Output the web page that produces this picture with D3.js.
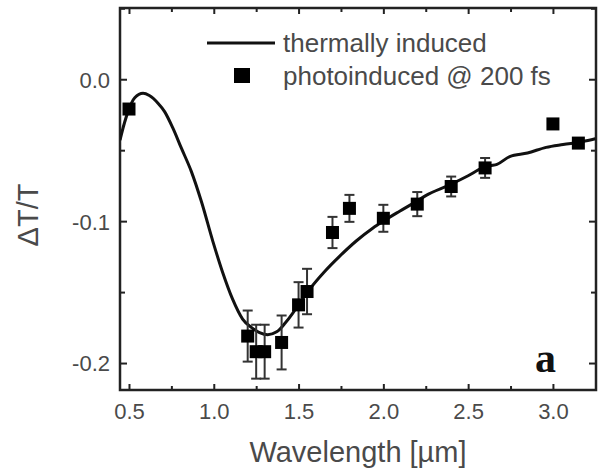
<!DOCTYPE html>
<html>
<head>
<meta charset="utf-8">
<script src="https://cdn.jsdelivr.net/npm/d3@7"></script>
<style>
  html, body { margin: 0; padding: 0; background: #fff; }
  svg { display: block; font-family: "Liberation Sans", Arial, sans-serif; }
</style>
</head>
<body>
<svg id="chart" width="606" height="476"></svg>
<script>
// Thermally induced transmission change (continuous curve)
const thermalWavelength = [0.447, 0.455, 0.494, 0.534, 0.583, 0.62, 0.671, 0.71, 0.759, 0.809, 0.868, 0.927, 0.995,
  1.052, 1.111, 1.17, 1.223, 1.27, 1.318, 1.371, 1.42, 1.465, 1.51, 1.565, 1.65, 1.74, 1.84, 1.937, 2.0, 2.096,
  2.21, 2.25, 2.39, 2.5, 2.585, 2.63, 2.67, 2.745, 2.85, 2.96, 3.06, 3.175, 3.25];
const thermalDT = [-0.043, -0.039, -0.023, -0.013, -0.0099, -0.0115, -0.0169, -0.0228, -0.0345, -0.0486, -0.0651, -0.0862, -0.1144,
  -0.136, -0.155, -0.169, -0.175, -0.1785, -0.180, -0.178, -0.172, -0.165, -0.157, -0.148, -0.136, -0.125, -0.114, -0.105, -0.100, -0.093,
  -0.085, -0.082, -0.0745, -0.068, -0.0625, -0.061, -0.060, -0.0545, -0.052, -0.048, -0.046, -0.044, -0.042];

// Photoinduced transmission change at 200 fs delay, with error bars
const photoWavelength = [0.5, 1.2, 1.25, 1.3, 1.4, 1.5, 1.55, 1.7, 1.8, 2.0, 2.2, 2.4, 2.6, 3.0, 3.15];
const photoDT = [-0.021, -0.181, -0.192, -0.192, -0.1855, -0.159, -0.1496, -0.108, -0.091, -0.098, -0.088, -0.0756, -0.0625, -0.0315, -0.045];
const photoErr = [0, 0.018, 0.019, 0.019, 0.019, 0.016, 0.016, 0.011, 0.0095, 0.0095, 0.0085, 0.007, 0.007, 0, 0];

const xMajorTicks = [0.5, 1.0, 1.5, 2.0, 2.5, 3.0];
const xMinorTicks = [0.75, 1.25, 1.75, 2.25, 2.75];
const yMajorTicks = [0.0, -0.1, -0.2];
const yMinorTicks = [0.05, -0.05, -0.15];

const legendLabels = ["thermally induced", "photoinduced @ 200 fs"];

const margin = { left: 120, top: 8, right: 10, bottom: 86 };
const W = 606, H = 476;
const iw = W - margin.left - margin.right;   // 476
const ih = H - margin.top - margin.bottom;   // 382

const svg = d3.select("#chart");
const g = svg.append("g").attr("transform", `translate(${margin.left},${margin.top})`);

const x = d3.scaleLinear().domain([0.447, 3.254]).range([0, iw]);
const y = d3.scaleLinear().domain([-0.219, 0.0502]).range([ih, 0]);

const frameColor = "#222";
const labelColor = "#4a4a4a";

// inward ticks on all four sides
function tickAxis(axisFn, scale, values, size) {
  return axisFn(scale).tickValues(values).tickSize(size).tickFormat("");
}
const axes = [
  [d3.axisBottom, x, `translate(0,${ih})`, -6, -4, xMajorTicks, xMinorTicks],
  [d3.axisTop, x, `translate(0,0)`, -6, -4, xMajorTicks, xMinorTicks],
  [d3.axisLeft, y, `translate(0,0)`, -7, -5, yMajorTicks, yMinorTicks],
  [d3.axisRight, y, `translate(${iw},0)`, -7, -5, yMajorTicks, yMinorTicks]
];
axes.forEach(([fn, sc, tr, maj, min, mv, nv]) => {
  [[mv, maj], [nv, min]].forEach(([vals, sz]) => {
    const a = g.append("g").attr("transform", tr).call(tickAxis(fn, sc, vals, sz));
    a.select(".domain").remove();
    a.selectAll(".tick line").attr("stroke", frameColor).attr("stroke-width", 2);
  });
});

// tick labels
const xl = g.append("g").attr("transform", `translate(0,${ih})`)
  .call(d3.axisBottom(x).tickValues(xMajorTicks).tickSize(0).tickPadding(0).tickFormat(d3.format(".1f")));
xl.select(".domain").remove();
xl.selectAll("text").attr("font-size", 22).attr("fill", labelColor)
  .attr("font-family", "Liberation Sans, Arial, sans-serif").attr("dy", null).attr("y", 28.5);

const yl = g.append("g")
  .call(d3.axisLeft(y).tickValues(yMajorTicks).tickSize(0).tickPadding(10).tickFormat(d3.format(".1f")));
yl.select(".domain").remove();
yl.selectAll("text").attr("font-size", 22).attr("fill", labelColor)
  .attr("font-family", "Liberation Sans, Arial, sans-serif").attr("dy", "0.36em")
  .text(d => d3.format(".1f")(d).replace("−", "-"));

// frame
g.append("rect").attr("x", 0).attr("y", 0).attr("width", iw).attr("height", ih)
  .attr("fill", "none").attr("stroke", frameColor).attr("stroke-width", 2.5);

// thermal curve
const line = d3.line().x(d => x(d[0])).y(d => y(d[1])).curve(d3.curveMonotoneX);
const thermal = thermalWavelength.map((w, i) => [w, thermalDT[i]]);
const clip = svg.append("clipPath").attr("id", "plotclip");
clip.append("rect").attr("width", iw).attr("height", ih);
g.append("path").datum(thermal).attr("d", line)
  .attr("clip-path", "url(#plotclip)")
  .attr("fill", "none").attr("stroke", "#111").attr("stroke-width", 3);

// photoinduced points with error bars
const photo = photoWavelength.map((w, i) => ({ w, v: photoDT[i], e: photoErr[i] }));
const eb = g.append("g").attr("stroke", "#333").attr("stroke-width", 2);
photo.filter(d => d.e > 0).forEach(d => {
  const cx = x(d.w), y1 = y(d.v + d.e), y2 = y(d.v - d.e);
  eb.append("line").attr("x1", cx).attr("x2", cx).attr("y1", y1).attr("y2", y2);
  eb.append("line").attr("x1", cx - 5).attr("x2", cx + 5).attr("y1", y1).attr("y2", y1);
  eb.append("line").attr("x1", cx - 5).attr("x2", cx + 5).attr("y1", y2).attr("y2", y2);
});
const sq = 13;
g.append("g").selectAll("rect").data(photo).join("rect")
  .attr("x", d => x(d.w) - sq / 2).attr("y", d => y(d.v) - sq / 2)
  .attr("width", sq).attr("height", sq).attr("fill", "#000");

// legend
const lg = svg.append("g").attr("font-size", 26).attr("fill", labelColor);
lg.append("line").attr("x1", 207).attr("x2", 275).attr("y1", 43).attr("y2", 43)
  .attr("stroke", "#111").attr("stroke-width", 3);
lg.append("text").attr("x", 283).attr("y", 52).text(legendLabels[0]);
lg.append("rect").attr("x", 234).attr("y", 68).attr("width", 16).attr("height", 15).attr("fill", "#000");
lg.append("text").attr("x", 283).attr("y", 85).text(legendLabels[1]);

// panel letter
svg.append("text").attr("x", 535).attr("y", 372)
  .attr("font-family", "Liberation Serif, Times New Roman, serif")
  .attr("font-weight", "bold").attr("font-size", 42).attr("fill", "#111").text("a");

// axis titles
svg.append("text").attr("x", margin.left + iw / 2).attr("y", 462).attr("text-anchor", "middle")
  .attr("font-size", 29).attr("fill", labelColor).text("Wavelength [µm]");
svg.append("text").attr("transform", "translate(38,215) rotate(-90)").attr("text-anchor", "middle")
  .attr("font-size", 29).attr("fill", labelColor).text("ΔT/T");
</script>
</body>
</html>
